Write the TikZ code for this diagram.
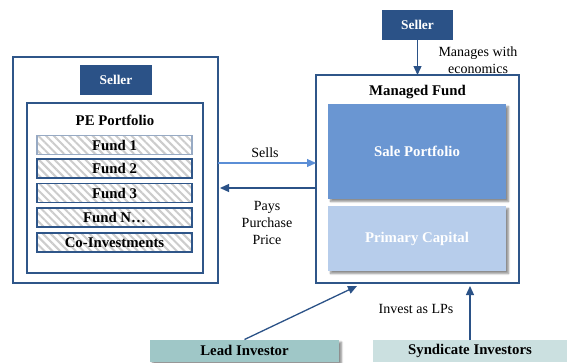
\documentclass[tikz,border=0pt]{standalone}
\usepackage{fontspec}
\setmainfont{Liberation Serif}
\usepackage{xcolor}
\usetikzlibrary{arrows.meta,patterns.meta,shadows.blur}

\definecolor{navy}{HTML}{2B5287}
\definecolor{edgeblue}{HTML}{2F5689}
\definecolor{saleblue}{HTML}{6A96D2}
\definecolor{primblue}{HTML}{B7CDEB}
\definecolor{sellsblue}{HTML}{5B8ED6}
\definecolor{leadteal}{HTML}{9FC7C7}
\definecolor{syndteal}{HTML}{CBE0E0}

\begin{document}
\begin{tikzpicture}[x=1pt,y=-1pt,
  font=\fontsize{14}{17}\selectfont,
  every node/.style={inner sep=0pt,outer sep=0pt},
  framebox/.style={draw=edgeblue,line width=1.1pt},
  boldtext/.style={font=\fontsize{14.8}{17}\selectfont\bfseries},
  sellerbox/.style={fill=navy,text=white,font=\fontsize{13.4}{16}\selectfont\bfseries,
    minimum width=72,minimum height=30},
  fundrow/.style={draw=edgeblue,line width=1.2pt,minimum width=155,minimum height=19,
    preaction={fill=white},pattern={Lines[angle=-45,distance=5.5pt,line width=2pt]},
    pattern color=gray!40,boldtext},
  fillbox/.style={minimum width=178,text=white,boldtext,
    blur shadow={shadow xshift=2.5pt,shadow yshift=-2.5pt,shadow blur steps=6,shadow opacity=45}},
  investor/.style={minimum height=22,boldtext},
  arr/.style={line width=1.3pt,-{Triangle[length=9pt,width=8pt]}}]
\useasboundingbox (0,0) rectangle (568,362);

\node[framebox,minimum width=205,minimum height=226] (seller side) at (115.5,170) {};
\node[sellerbox] (seller left) at (116,80) {Seller};
\node[framebox,minimum width=176,minimum height=170] (pe portfolio) at (115,188) {};
\node[boldtext] (pe title) at (115,120) {PE Portfolio};
\node[fundrow,draw=edgeblue!50] (fund 1) at (114.5,145) {Fund 1};
\node[fundrow] (fund 2) at (114.5,168.5) {Fund 2};
\node[fundrow] (fund 3) at (114.5,193) {Fund 3};
\node[fundrow] (fund n) at (114.5,217.5) {Fund N\ldots};
\node[fundrow] (co invest) at (114.5,242.5) {Co-Investments};

\node[framebox,minimum width=203,minimum height=208] (managed fund) at (417.5,179) {};
\node[boldtext] (mf title) at (417.5,92) {Managed Fund};
\node[fillbox,fill=saleblue,minimum height=95] (sale) at (417,151.5) {Sale Portfolio};
\node[fillbox,fill=primblue,minimum height=65] (primary) at (417,238.5) {Primary Capital};

\node[sellerbox,minimum width=71] (seller top) at (417.5,25) {Seller};
\node[align=center] (manages) at (478,60) {Manages with\\economics};

\node[investor,fill=leadteal,minimum width=189,
  blur shadow={shadow xshift=2.5pt,shadow yshift=-2.5pt,shadow blur steps=6,shadow opacity=45}]
  (lead) at (244.5,350.5) {Lead Investor};
\node[investor,fill=syndteal,minimum width=194] (syndicate) at (470,351) {Syndicate Investors};

\coordinate (sells a) at (seller side.east |- 0,163);
\coordinate (sells b) at (managed fund.west |- 0,163);
\coordinate (pays a) at (managed fund.west |- 0,188);
\coordinate (pays b) at (220,188);
\coordinate (lead end) at (357,286);
\coordinate (synd end) at (syndicate.north |- 0,286);

\draw[arr,draw=sellsblue,fill=sellsblue,line width=1.1pt] (sells a) -- (sells b);
\draw[arr,draw=navy,fill=navy] (pays a) -- (pays b);
\draw[arr,draw=navy] (seller top.south) -- (managed fund.north);
\draw[arr,draw=navy] (lead.north) -- (lead end);
\draw[arr,draw=navy] (syndicate.north) -- (synd end);

\node (sells) at (265,153) {Sells};
\node[align=center] (pays) at (267,223) {Pays\\Purchase\\Price};
\node (invest) at (416,309) {Invest as LPs};
\end{tikzpicture}
\end{document}
